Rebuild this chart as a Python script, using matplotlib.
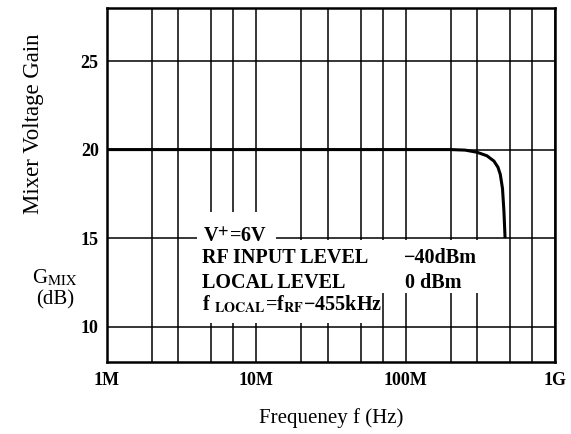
import matplotlib
matplotlib.use('Agg')
import matplotlib.pyplot as plt
from matplotlib.patches import Rectangle
from matplotlib.ticker import FixedLocator, NullFormatter

# frequency in MHz, gain in dB
freq_mhz = [1, 10, 100, 200, 250, 300, 350, 390, 415, 430, 445, 455, 463]
gain_db  = [20.0, 20.0, 20.0, 20.0, 19.97, 19.85, 19.65, 19.35, 19.0, 18.6, 17.8, 16.5, 15.0]

x_ticks  = [1e6, 1e7, 1e8, 1e9]
x_labels = ['1M', '10M', '100M', '1G']
y_ticks  = [10, 15, 20, 25]
minor_mult = [2, 3, 5, 7]

plt.rcParams['font.family'] = ['Liberation Serif', 'DejaVu Serif']
plt.rcParams['mathtext.fontset'] = 'stix'

fig = plt.figure(figsize=(5.71, 4.34), dpi=100)
ax = fig.add_axes([0.1874, 0.166, 0.7846, 0.8156])

freq_hz = [f * 1e6 for f in freq_mhz]
ax.plot(freq_hz, gain_db, color='black', lw=2.2, zorder=5, solid_capstyle='butt')

ax.set_xscale('log')
ax.set_xlim(1e6, 1e9)
ax.set_ylim(8, 28)
ax.set_xticks(x_ticks)
ax.set_xticklabels(x_labels)
ax.set_yticks(y_ticks)
minors = [m * 10 ** e for e in range(6, 9) for m in minor_mult]
ax.xaxis.set_minor_locator(FixedLocator(minors))
ax.xaxis.set_minor_formatter(NullFormatter())
ax.yaxis.set_minor_locator(FixedLocator([]))

ax.grid(True, which='both', axis='x', color='black', lw=1.1, zorder=1)
ax.grid(True, which='major', axis='y', color='black', lw=1.1, zorder=1)
ax.set_axisbelow(True)
ax.tick_params(which='both', length=0)
ax.tick_params(axis='y', pad=6)
ax.tick_params(axis='x', pad=7)
for lab in ax.get_xticklabels() + ax.get_yticklabels():
    lab.set_fontsize(13)
    lab.set_fontweight('bold')
for sp in ax.spines.values():
    sp.set_linewidth(1.8)

# white masks behind the condition text
for (x0, y0, w, h) in [(0.201, 0.333, 0.176, 0.091),
                       (0.201, 0.195, 0.632, 0.150),
                       (0.201, 0.110, 0.413, 0.087)]:
    ax.add_patch(Rectangle((x0, y0), w, h, transform=ax.transAxes,
                           facecolor='white', edgecolor='none', zorder=3))

tkw = dict(transform=ax.transAxes, fontsize=14.5, fontweight='bold',
           va='center', ha='left', zorder=6)
ax.text(0.214, 0.353, r'V$^{\mathbf{+}}$=6V', **tkw)
ax.text(0.212, 0.294, 'RF INPUT LEVEL', **tkw)
ax.text(0.662, 0.294, '\u221240dBm', **tkw)
ax.text(0.212, 0.223, 'LOCAL LEVEL', **tkw)
ax.text(0.665, 0.223, '0 dBm', **tkw)
ax.text(0.212, 0.162, 'f $_{\\mathbf{LOCAL}}$=f$_{\\mathbf{RF}}$\u2212455kHz', **tkw)

ax.set_xlabel('Frequeney f (Hz)', fontsize=15, labelpad=14)
fig.text(0.058, 0.715, 'Mixer Voltage Gain', rotation=90, fontsize=16.5,
         ha='center', va='center')
fig.text(0.096, 0.36, r'G$_{\mathrm{MIX}}$', fontsize=15, ha='center', va='center')
fig.text(0.096, 0.308, '(dB)', fontsize=15, ha='center', va='center')

fig.savefig('out.png', dpi=100)
